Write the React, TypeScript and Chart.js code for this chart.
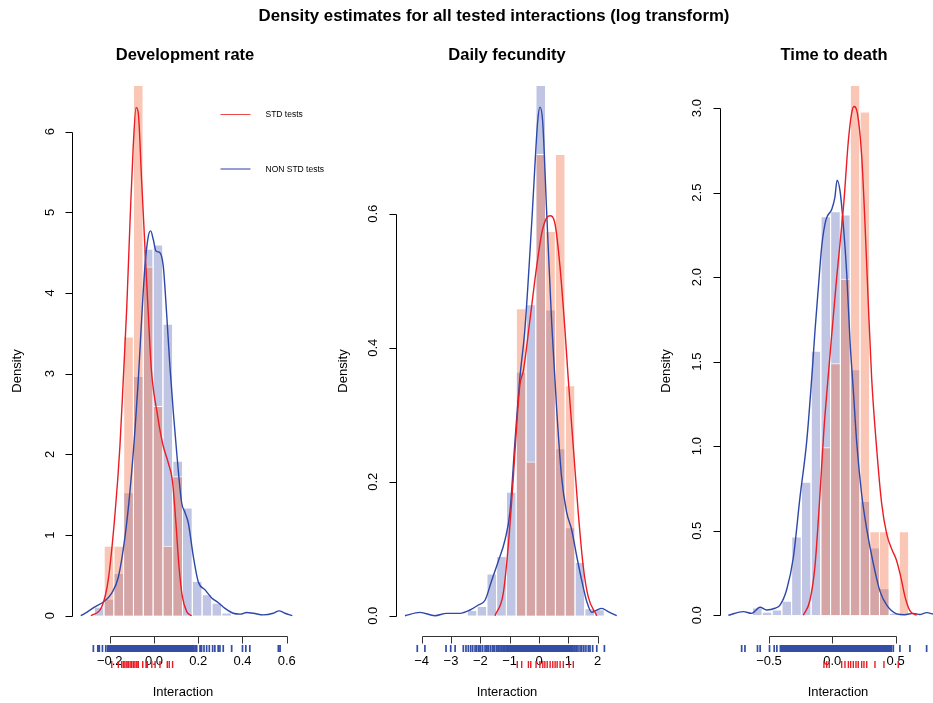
import { useEffect, useRef } from 'react';
import { Chart, registerables } from 'chart.js';

Chart.register(...registerables);

const FONT = '"Liberation Sans", Arial, Helvetica, sans-serif';
const PAGE_W = 933;
const PAGE_H = 703;

const MAIN_TITLE = 'Density estimates for all tested interactions (log transform)';
const X_LABEL = 'Interaction';
const Y_LABEL = 'Density';
const STD_LABEL = 'STD tests';
const NON_STD_LABEL = 'NON STD tests';

// ---------------- Development rate ----------------
const devBins = [-0.2481, -0.2038, -0.1595, -0.1152, -0.0709, -0.0262, 0.0181, 0.0624, 0.1067, 0.151, 0.1953, 0.2396, 0.2839, 0.3282];
const devStdHist = [0, 0.866, 0.866, 3.46, 7.79, 4.33, 2.6, 0.866, 1.73, 0, 0, 0, 0, 0];
const devNonStdHist = [0.11, 0.21, 0.53, 1.53, 2.97, 4.55, 4.6, 3.62, 1.92, 1.34, 0.43, 0.265, 0.16, 0.04];
const devStdDensX = [-0.285, -0.236, -0.207, -0.176, -0.154, -0.139, -0.123, -0.108, -0.094, -0.081, -0.071, -0.056, -0.041, -0.026, -0.012, 0.0, 0.012, 0.027, 0.042, 0.065, 0.083, 0.098, 0.113, 0.128, 0.148, 0.17];
const devStdDensY = [0, 0.11, 0.44, 1.27, 2.1, 2.92, 3.83, 4.91, 5.81, 6.3, 6.23, 5.4, 4.57, 3.75, 3.05, 2.75, 2.55, 2.3, 2.1, 1.89, 1.68, 1.19, 0.61, 0.24, 0.05, 0];
const devNonStdDensX = [-0.331, -0.312, -0.267, -0.229, -0.191, -0.161, -0.131, -0.108, -0.086, -0.071, -0.056, -0.041, -0.026, -0.015, -0.003, 0.009, 0.027, 0.042, 0.057, 0.072, 0.088, 0.103, 0.125, 0.14, 0.155, 0.178, 0.2, 0.231, 0.261, 0.291, 0.321, 0.358, 0.39, 0.419, 0.449, 0.494, 0.539, 0.565, 0.592, 0.625];
const devNonStdDensY = [0, 0.03, 0.11, 0.17, 0.28, 0.48, 0.98, 1.56, 2.3, 2.92, 3.67, 4.33, 4.7, 4.77, 4.66, 4.52, 4.5, 4.33, 3.75, 3.09, 2.5, 2.01, 1.4, 1.28, 1.15, 0.73, 0.42, 0.32, 0.22, 0.16, 0.09, 0.03, 0.02, 0.04, 0.03, 0.01, 0.03, 0.06, 0.03, 0];
const devStdRug = [-0.191, -0.161, -0.146, -0.138, -0.131, -0.123, -0.116, -0.108, -0.101, -0.093, -0.086, -0.078, -0.071, -0.051, -0.036, -0.03, -0.01, 0.005, 0.027, 0.06, 0.069, 0.084];
const devNonStdRug = [
  -0.274, -0.254, -0.247, -0.233, -0.218, -0.209,
  -0.204, -0.198, -0.191, -0.185, -0.178, -0.172, -0.165, -0.159, -0.152, -0.146, -0.139, -0.133, -0.126, -0.12, -0.113, -0.107,
  -0.1, -0.094, -0.087, -0.081, -0.074, -0.068, -0.061, -0.055, -0.048, -0.042, -0.035, -0.029, -0.022, -0.016, -0.009, -0.003,
  0.004, 0.01, 0.017, 0.023, 0.03, 0.036, 0.043, 0.049, 0.056, 0.062, 0.069, 0.075, 0.082, 0.088, 0.095, 0.101, 0.108, 0.114,
  0.121, 0.127, 0.134, 0.14, 0.147, 0.153, 0.16, 0.166, 0.173, 0.178,
  0.186, 0.193, 0.208, 0.215, 0.226, 0.238, 0.25, 0.265, 0.275, 0.29, 0.298, 0.313, 0.351, 0.4, 0.415, 0.433, 0.562, 0.57,
];
const devXTicks = [-0.2, 0, 0.2, 0.4, 0.6];
const devXTickLabels = ['\u22120.2', '0.0', '0.2', '0.4', '0.6'];
const devYTicks = [0, 1, 2, 3, 4, 5, 6];
const devYTickLabels = ['0', '1', '2', '3', '4', '5', '6'];

// ---------------- Daily fecundity ----------------
const fecBins = [-2.281, -1.947, -1.613, -1.279, -0.945, -0.611, -0.276, 0.058, 0.392, 0.726, 1.06, 1.394, 1.728, 2.062];
const fecStdHist = [0, 0, 0, 0, 0, 0.459, 0.23, 0.689, 0.574, 0.689, 0.344, 0, 0, 0];
const fecNonStdHist = [0.0085, 0.0145, 0.063, 0.089, 0.185, 0.364, 0.465, 0.85, 0.457, 0.25, 0.132, 0.08, 0.011, 0.0095];
const fecStdDensX = [-1.5, -1.22, -1.05, -0.88, -0.76, -0.65, -0.535, -0.31, -0.08, 0.1, 0.25, 0.375, 0.545, 0.716, 0.886, 1.0, 1.17, 1.34, 1.51, 1.68, 1.97];
const fecStdDensY = [0, 0.033, 0.103, 0.203, 0.285, 0.345, 0.365, 0.441, 0.521, 0.572, 0.593, 0.597, 0.585, 0.521, 0.426, 0.352, 0.252, 0.153, 0.073, 0.028, 0];
const fecNonStdDensX = [-4.57, -4.06, -3.55, -3.15, -2.69, -2.35, -2.07, -1.84, -1.61, -1.39, -1.16, -0.99, -0.82, -0.65, -0.48, -0.23, -0.14, -0.045, 0.034, 0.125, 0.26, 0.43, 0.545, 0.6, 0.77, 0.94, 1.11, 1.29, 1.46, 1.63, 1.8, 1.95, 2.14, 2.36, 2.65];
const fecNonStdDensY = [0, 0.005, 0, 0.0035, 0.0035, 0.0085, 0.016, 0.023, 0.053, 0.081, 0.113, 0.155, 0.26, 0.356, 0.428, 0.6, 0.671, 0.738, 0.759, 0.738, 0.604, 0.439, 0.352, 0.31, 0.207, 0.155, 0.129, 0.088, 0.052, 0.021, 0.005, 0.008, 0.011, 0.006, 0];
const fecStdRug = [-0.74, -0.59, -0.36, -0.28, -0.1, 0.03, 0.13, 0.2, 0.28, 0.38, 0.47, 0.55, 0.62, 0.72, 0.83, 1.03, 1.17];
const fecNonStdRug = [
  -4.15, -3.89, -3.17, -3.01, -2.86, -2.58, -2.49, -2.41, -2.33, -2.26, -2.18, -2.12, -2.05, -1.99, -1.92,
  -1.84, -1.78, -1.72, -1.65, -1.58, -1.52, -1.45, -1.39, -1.33, -1.27, -1.21, -1.16,
  -1.1, -1.05, -1.0, -0.95, -0.9, -0.85, -0.8, -0.75, -0.7, -0.65, -0.6, -0.55, -0.5, -0.45, -0.4, -0.35, -0.3, -0.25,
  -0.2, -0.15, -0.1, -0.05, 0.0, 0.05, 0.1, 0.15, 0.2, 0.25, 0.3, 0.35, 0.4, 0.45, 0.5, 0.55, 0.6, 0.65, 0.7, 0.75,
  0.8, 0.85, 0.9, 0.95, 1.0, 1.05, 1.1, 1.15,
  1.21, 1.27, 1.33, 1.4, 1.46, 1.53, 1.6, 1.68, 1.74, 1.83, 1.97, 2.23,
];
const fecXTicks = [-4, -3, -2, -1, 0, 1, 2];
const fecXTickLabels = ['\u22124', '\u22123', '\u22122', '\u22121', '0', '1', '2'];
const fecYTicks = [0, 0.2, 0.4, 0.6];
const fecYTickLabels = ['0.0', '0.2', '0.4', '0.6'];

// ---------------- Time to death ----------------
const ttdBins = [-0.592, -0.515, -0.437, -0.36, -0.283, -0.206, -0.129, -0.052, 0.025, 0.103, 0.18, 0.257, 0.334, 0.411, 0.488, 0.566];
const ttdStdHist = [0, 0, 0, 0, 0, 0, 0, 0.994, 1.49, 1.99, 3.97, 2.98, 0.497, 0.497, 0, 0.497];
const ttdNonStdHist = [0.045, 0.02, 0.033, 0.085, 0.465, 0.79, 1.565, 2.36, 2.39, 2.37, 1.455, 0.675, 0.4, 0.16, 0.015, 0.01];
const ttdStdDensX = [-0.229, -0.176, -0.137, -0.097, -0.066, -0.035, 0.0, 0.035, 0.061, 0.092, 0.126, 0.153, 0.171, 0.198, 0.232, 0.258, 0.284, 0.311, 0.351, 0.39, 0.43, 0.47, 0.505, 0.54, 0.574, 0.614, 0.667];
const ttdStdDensY = [0, 0.09, 0.29, 0.72, 1.1, 1.39, 1.7, 2.0, 2.2, 2.45, 2.8, 2.97, 3.01, 2.97, 2.72, 2.32, 1.85, 1.4, 0.98, 0.66, 0.48, 0.39, 0.33, 0.23, 0.11, 0.025, 0];
const ttdNonStdDensX = [-0.821, -0.703, -0.637, -0.571, -0.518, -0.453, -0.413, -0.36, -0.308, -0.255, -0.202, -0.158, -0.137, -0.11, -0.084, -0.05, -0.005, 0.02, 0.038, 0.061, 0.087, 0.114, 0.14, 0.166, 0.193, 0.232, 0.272, 0.324, 0.377, 0.43, 0.509, 0.57, 0.64, 0.69, 0.745, 0.8];
const ttdNonStdDensY = [0, 0.021, 0.011, 0.047, 0.031, 0.041, 0.06, 0.152, 0.34, 0.7, 1.03, 1.45, 1.68, 1.94, 2.18, 2.34, 2.4, 2.47, 2.574, 2.51, 2.31, 2.02, 1.62, 1.33, 1.02, 0.714, 0.509, 0.305, 0.141, 0.059, 0.008, 0.003, 0.011, 0.004, 0.015, 0.006];
const ttdStdRug = [-0.066, -0.044, -0.024, 0.074, 0.1, 0.127, 0.145, 0.166, 0.187, 0.205, 0.232, 0.25, 0.272, 0.337, 0.408, 0.521];
const ttdNonStdRug = [
  -0.716, -0.69, -0.591, -0.57, -0.496, -0.459, -0.438, -0.41, -0.398,
  -0.385, -0.373, -0.362, -0.35, -0.339, -0.327, -0.316, -0.304, -0.293, -0.281, -0.27, -0.258, -0.247, -0.235, -0.224,
  -0.212, -0.201, -0.189, -0.178, -0.166, -0.155, -0.143, -0.132, -0.12, -0.109, -0.097, -0.086, -0.074, -0.063, -0.051,
  -0.04, -0.028, -0.017, -0.005, 0.006, 0.018, 0.029, 0.041, 0.052, 0.064, 0.075, 0.087, 0.098, 0.11, 0.121, 0.133, 0.144,
  0.156, 0.167, 0.179, 0.19, 0.202, 0.213, 0.225, 0.236, 0.248, 0.259, 0.271, 0.282, 0.294, 0.305, 0.317, 0.328, 0.34,
  0.351, 0.363, 0.374, 0.386, 0.397, 0.409, 0.42, 0.432, 0.443, 0.455, 0.466,
  0.482, 0.534, 0.613, 0.745,
];
const ttdXTicks = [-0.5, 0, 0.5];
const ttdXTickLabels = ['\u22120.5', '0.0', '0.5'];
const ttdYTicks = [0, 0.5, 1, 1.5, 2, 2.5, 3];
const ttdYTickLabels = ['0.0', '0.5', '1.0', '1.5', '2.0', '2.5', '3.0'];

const COLORS = {
  stdBar: 'rgba(242,122,80,0.42)',
  nonBar: 'rgba(55,70,170,0.315)',
  stdLine: 'rgb(236,28,36)',
  nonLine: 'rgb(45,72,168)',
  stdRug: 'rgb(236,28,36)',
  nonRug: 'rgb(52,78,168)',
  legendStd: 'rgba(236,40,40,0.85)',
  legendNon: 'rgba(80,90,185,0.6)',
};

interface PanelSpec {
  key: string;
  title: string;
  titleX: number;
  area: { left: number; right: number; top: number; bottom: number };
  xMin: number; xMax: number; yMin: number; yMax: number;
  bins: number[]; stdHist: number[]; nonHist: number[];
  stdDx: number[]; stdDy: number[]; nonDx: number[]; nonDy: number[];
  stdRug: number[]; nonRug: number[];
  xTicks: number[]; xTickLabels: string[]; yTicks: number[]; yTickLabels: string[];
  yAxisX: number; yTickLabelX: number; yLabelX: number; xLabelX: number;
  mainTitle: boolean; legend: boolean;
}

const PANELS: PanelSpec[] = [
  {
    key: 'dev', title: 'Development rate', titleX: 185,
    area: { left: 78, right: 295, top: 86, bottom: 620 },
    xMin: -0.3435, xMax: 0.6373, yMin: -0.0533, yMax: 6.566,
    bins: devBins, stdHist: devStdHist, nonHist: devNonStdHist,
    stdDx: devStdDensX, stdDy: devStdDensY, nonDx: devNonStdDensX, nonDy: devNonStdDensY,
    stdRug: devStdRug, nonRug: devNonStdRug,
    xTicks: devXTicks, xTickLabels: devXTickLabels, yTicks: devYTicks, yTickLabels: devYTickLabels,
    yAxisX: 72.5, yTickLabelX: 50, yLabelX: 17, xLabelX: 183, mainTitle: true, legend: true,
  },
  {
    key: 'fec', title: 'Daily fecundity', titleX: 507,
    area: { left: 402, right: 620, top: 86, bottom: 620 },
    xMin: -4.671, xMax: 2.762, yMin: -0.00642, yMax: 0.7906,
    bins: fecBins, stdHist: fecStdHist, nonHist: fecNonStdHist,
    stdDx: fecStdDensX, stdDy: fecStdDensY, nonDx: fecNonStdDensX, nonDy: fecNonStdDensY,
    stdRug: fecStdRug, nonRug: fecNonStdRug,
    xTicks: fecXTicks, xTickLabels: fecXTickLabels, yTicks: fecYTicks, yTickLabels: fecYTickLabels,
    yAxisX: 396.5, yTickLabelX: 373, yLabelX: 343, xLabelX: 507, mainTitle: false, legend: false,
  },
  {
    key: 'ttd', title: 'Time to death', titleX: 834,
    area: { left: 725, right: 933, top: 86, bottom: 620 },
    xMin: -0.8476, xMax: 0.7954, yMin: -0.0284, yMax: 3.131,
    bins: ttdBins, stdHist: ttdStdHist, nonHist: ttdNonStdHist,
    stdDx: ttdStdDensX, stdDy: ttdStdDensY, nonDx: ttdNonStdDensX, nonDy: ttdNonStdDensY,
    stdRug: ttdStdRug, nonRug: ttdNonStdRug,
    xTicks: ttdXTicks, xTickLabels: ttdXTickLabels, yTicks: ttdYTicks, yTickLabels: ttdYTickLabels,
    yAxisX: 720.5, yTickLabelX: 697, yLabelX: 666, xLabelX: 838, mainTitle: false, legend: false,
  },
];

const X_AXIS_Y = 636.5;
const TICK_LEN = 7;
const X_TICK_LABEL_Y = 661;
const NON_RUG = [645, 652];
const STD_RUG = [661, 668];

const zip = (xs: number[], ys: number[]) => xs.map((x, i) => ({ x, y: ys[i] }));

function makePlugin(p: PanelSpec) {
  return {
    id: 'rstyle_' + p.key,
    afterDraw(chart: any) {
      const ctx: CanvasRenderingContext2D = chart.ctx;
      const xs = chart.scales.x;
      const ys = chart.scales.y;
      ctx.save();

      // y axis
      ctx.strokeStyle = '#000';
      ctx.lineWidth = 1;
      ctx.beginPath();
      const yTop = Math.round(ys.getPixelForValue(p.yTicks[p.yTicks.length - 1])) + 0.5;
      const yBot = Math.round(ys.getPixelForValue(p.yTicks[0])) + 0.5;
      ctx.moveTo(p.yAxisX, yBot);
      ctx.lineTo(p.yAxisX, yTop);
      p.yTicks.forEach((t) => {
        const y = Math.round(ys.getPixelForValue(t)) + 0.5;
        ctx.moveTo(p.yAxisX, y);
        ctx.lineTo(p.yAxisX - TICK_LEN, y);
      });
      ctx.stroke();

      ctx.fillStyle = '#000';
      ctx.font = `13px ${FONT}`;
      ctx.textAlign = 'center';
      ctx.textBaseline = 'middle';
      p.yTicks.forEach((t, i) => {
        const y = ys.getPixelForValue(t);
        ctx.save();
        ctx.translate(p.yTickLabelX, y);
        ctx.rotate(-Math.PI / 2);
        ctx.fillText(p.yTickLabels[i], 0, 0);
        ctx.restore();
      });

      // x axis
      ctx.strokeStyle = '#333';
      ctx.beginPath();
      const xL = Math.round(xs.getPixelForValue(p.xTicks[0])) + 0.5;
      const xR = Math.round(xs.getPixelForValue(p.xTicks[p.xTicks.length - 1])) + 0.5;
      ctx.moveTo(xL, X_AXIS_Y);
      ctx.lineTo(xR, X_AXIS_Y);
      p.xTicks.forEach((t) => {
        const x = Math.round(xs.getPixelForValue(t)) + 0.5;
        ctx.moveTo(x, X_AXIS_Y);
        ctx.lineTo(x, X_AXIS_Y + TICK_LEN);
      });
      ctx.stroke();

      // rugs
      ctx.lineWidth = 1.7;
      ctx.strokeStyle = COLORS.nonRug;
      ctx.beginPath();
      p.nonRug.forEach((v) => {
        const x = xs.getPixelForValue(v);
        ctx.moveTo(x, NON_RUG[0]);
        ctx.lineTo(x, NON_RUG[1]);
      });
      ctx.stroke();

      ctx.fillStyle = '#000';
      p.xTicks.forEach((t, i) => {
        ctx.fillText(p.xTickLabels[i], xs.getPixelForValue(t), X_TICK_LABEL_Y);
      });

      ctx.strokeStyle = COLORS.stdRug;
      ctx.lineWidth = 1.4;
      ctx.beginPath();
      p.stdRug.forEach((v) => {
        const x = xs.getPixelForValue(v);
        ctx.moveTo(x, STD_RUG[0]);
        ctx.lineTo(x, STD_RUG[1]);
      });
      ctx.stroke();

      // axis titles
      ctx.fillStyle = '#000';
      ctx.font = `13px ${FONT}`;
      ctx.fillText(X_LABEL, p.xLabelX, 692);
      ctx.save();
      ctx.translate(p.yLabelX, 371);
      ctx.rotate(-Math.PI / 2);
      ctx.fillText(Y_LABEL, 0, 0);
      ctx.restore();

      // panel title
      ctx.font = `bold 16.5px ${FONT}`;
      ctx.fillText(p.title, p.titleX, 55);

      if (p.mainTitle) {
        ctx.font = `bold 16.8px ${FONT}`;
        ctx.fillText(MAIN_TITLE, 494, 16);
      }

      if (p.legend) {
        ctx.lineWidth = 1;
        ctx.strokeStyle = COLORS.legendStd;
        ctx.beginPath();
        ctx.moveTo(220.5, 114.5);
        ctx.lineTo(250.5, 114.5);
        ctx.stroke();
        ctx.lineWidth = 2;
        ctx.strokeStyle = COLORS.legendNon;
        ctx.beginPath();
        ctx.moveTo(220.5, 169);
        ctx.lineTo(250.5, 169);
        ctx.stroke();
        ctx.fillStyle = '#000';
        ctx.font = `8.5px ${FONT}`;
        ctx.textAlign = 'left';
        ctx.fillText(STD_LABEL, 265.5, 114.5);
        ctx.fillText(NON_STD_LABEL, 265.5, 169.5);
      }
      ctx.restore();
    },
  };
}

function PanelCanvas({ spec }: { spec: PanelSpec }) {
  const ref = useRef<HTMLCanvasElement | null>(null);
  useEffect(() => {
    const canvas = ref.current;
    if (!canvas) return;
    const chart = new Chart(canvas, {
      type: 'bar',
      data: {
        datasets: [
          {
            type: 'line',
            label: STD_LABEL,
            data: zip(spec.stdDx, spec.stdDy),
            borderColor: COLORS.stdLine,
            borderWidth: 1.4,
            pointRadius: 0,
            cubicInterpolationMode: 'monotone',
            fill: false,
            order: 0,
          },
          {
            type: 'line',
            label: NON_STD_LABEL,
            data: zip(spec.nonDx, spec.nonDy),
            borderColor: COLORS.nonLine,
            borderWidth: 1.4,
            pointRadius: 0,
            cubicInterpolationMode: 'monotone',
            fill: false,
            order: 0,
          },
          {
            type: 'bar',
            label: STD_LABEL + ' hist',
            data: zip(spec.bins, spec.stdHist),
            backgroundColor: COLORS.stdBar,
            borderColor: '#ffffff',
            borderWidth: { top: 1, left: 0, right: 0, bottom: 0 },
            grouped: false,
            barPercentage: 0.9,
            categoryPercentage: 1,
            order: 1,
          },
          {
            type: 'bar',
            label: NON_STD_LABEL + ' hist',
            data: zip(spec.bins, spec.nonHist),
            backgroundColor: COLORS.nonBar,
            borderColor: '#ffffff',
            borderWidth: { top: 1, left: 0, right: 0, bottom: 0 },
            grouped: false,
            barPercentage: 0.9,
            categoryPercentage: 1,
            order: 2,
          },
        ] as any,
      },
      options: {
        responsive: false,
        animation: false,
        devicePixelRatio: 1,
        events: [],
        layout: {
          padding: {
            left: spec.area.left,
            right: PAGE_W - spec.area.right,
            top: spec.area.top,
            bottom: PAGE_H - spec.area.bottom,
          },
        },
        scales: {
          x: { type: 'linear', min: spec.xMin, max: spec.xMax, display: false, offset: false, ticks: { maxTicksLimit: 6 } },
          y: { type: 'linear', min: spec.yMin, max: spec.yMax, display: false },
        },
        plugins: {
          legend: { display: false },
          tooltip: { enabled: false },
          title: { display: false },
        },
      } as any,
      plugins: [makePlugin(spec)],
    });
    return () => chart.destroy();
  }, [spec]);
  return (
    <canvas
      ref={ref}
      width={PAGE_W}
      height={PAGE_H}
      style={{ position: 'absolute', left: 0, top: 0, width: PAGE_W, height: PAGE_H }}
    />
  );
}

export default function App() {
  return (
    <div style={{ position: 'absolute', left: 0, top: 0, width: PAGE_W, height: PAGE_H, background: '#fff', overflow: 'hidden' }}>
      {PANELS.map((p) => (
        <PanelCanvas key={p.key} spec={p} />
      ))}
    </div>
  );
}
